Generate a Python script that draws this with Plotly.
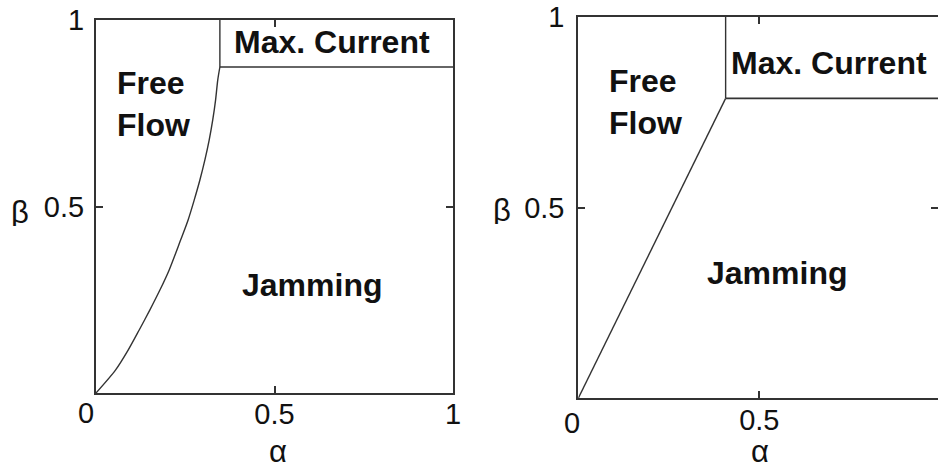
import plotly.graph_objects as go

# Phase boundaries, left diagram (curved free-flow / jamming boundary)
left_curve_alpha = [0.0, 0.055, 0.090, 0.121, 0.151, 0.179, 0.205, 0.237, 0.258,
                    0.275, 0.291, 0.305, 0.317, 0.327, 0.335, 0.341, 0.347]
left_curve_beta = [0.0, 0.062, 0.115, 0.169, 0.223, 0.276, 0.330, 0.410, 0.464,
                   0.517, 0.571, 0.625, 0.678, 0.732, 0.786, 0.839, 0.874]
left_corner = (0.347, 0.874)

# Phase boundaries, right diagram (straight free-flow / jamming boundary)
right_curve_alpha = [0.0, 0.407]
right_curve_beta = [0.0, 0.786]
right_corner = (0.407, 0.786)

tick_vals = [0.5, 1]
tick_text = ["0.5", "1"]

region_labels = ["Max. Current", "Free<br>Flow", "Jamming"]
left_label_pos = [(0.661, 0.941), (0.053, 0.775), (0.606, 0.290)]
right_label_pos = [(0.693, 0.879), (0.079, 0.776), (0.548, 0.328)]

W, H = 938, 466
LINE = "#333333"
TXT = "#111111"
BOLD = dict(family="Liberation Sans", size=32, color=TXT, weight="bold")
TICKF = dict(family="Liberation Sans", size=29, color=TXT)

fig = go.Figure()


def boundary(alpha, beta, corner, xa, ya, shape):
    ca, cb = corner
    fig.add_trace(go.Scatter(x=alpha, y=beta, mode="lines", xaxis=xa, yaxis=ya,
                             line=dict(color=LINE, width=1.4, shape=shape, smoothing=0.8),
                             showlegend=False, hoverinfo="skip"))
    fig.add_trace(go.Scatter(x=[ca, ca], y=[cb, 1.0], mode="lines", xaxis=xa, yaxis=ya,
                             line=dict(color=LINE, width=1.4), showlegend=False,
                             hoverinfo="skip"))
    fig.add_trace(go.Scatter(x=[ca, 1.0], y=[cb, cb], mode="lines", xaxis=xa, yaxis=ya,
                             line=dict(color=LINE, width=1.6), showlegend=False,
                             hoverinfo="skip"))


boundary(left_curve_alpha, left_curve_beta, left_corner, "x", "y", "spline")
boundary(right_curve_alpha, right_curve_beta, right_corner, "x2", "y2", "linear")

axis_common = dict(showline=True, linewidth=2, linecolor=LINE, mirror="ticks",
                   ticks="inside", ticklen=7, tickwidth=1.5, tickcolor=LINE,
                   tickvals=tick_vals, ticktext=tick_text, tickfont=TICKF,
                   showgrid=False, zeroline=False, fixedrange=True, automargin=False)

# pixel geometry of the two frames
L = dict(x0=96, x1=453, y0=393, y1=20)
R = dict(x0=578.3, x1=940.3, y0=398.3, y1=16.7)
r_len = R["x1"] - R["x0"]
r_vis = (W - R["x0"]) / r_len

fig.update_layout(
    template="none",
    width=W, height=H,
    margin=dict(l=0, r=0, t=0, b=0, pad=0, autoexpand=False),
    paper_bgcolor="white", plot_bgcolor="white",
    xaxis=dict(axis_common, domain=[L["x0"] / W, L["x1"] / W], range=[0, 1],
               anchor="y", ticklabelstandoff=-6),
    yaxis=dict(axis_common, domain=[(H - L["y0"]) / H, (H - L["y1"]) / H], range=[0, 1],
               anchor="x", ticklabelstandoff=4),
    xaxis2=dict(axis_common, domain=[R["x0"] / W, 1.0], range=[0, r_vis],
                anchor="y2", ticklabelstandoff=-5),
    yaxis2=dict(axis_common, domain=[(H - R["y0"]) / H, (H - R["y1"]) / H], range=[0, 1],
                anchor="x2", ticklabelstandoff=6),
)

annotations = []
for (xa, ya, pos) in (("x", "y", left_label_pos), ("x2", "y2", right_label_pos)):
    for text, (ax, ay) in zip(region_labels, pos):
        is_free = text.startswith("Free")
        annotations.append(dict(
            x=ax, y=ay, xref=xa, yref=ya, text=text, showarrow=False,
            font=BOLD, xanchor="left" if is_free else "center", yanchor="middle",
            align="left"))

# shared origin labels
annotations.append(dict(x=0, y=0, xref="x", yref="y", text="0", showarrow=False,
                        font=TICKF, xshift=-10, yshift=-20,
                        xanchor="center", yanchor="middle"))
annotations.append(dict(x=0, y=0, xref="x2", yref="y2", text="0", showarrow=False,
                        font=TICKF, xshift=-6, yshift=-25,
                        xanchor="center", yanchor="middle"))

# axis symbols (compact boxes so the lower ones stay inside the page)
GREEK = dict(family="Liberation Sans", size=31, color=TXT)
for sym, px, py in (("β", 20, 212), ("β", 502, 210), ("α", 278, 451), ("α", 760, 451)):
    annotations.append(dict(x=px / W, y=(H - py) / H, xref="paper", yref="paper",
                            text=sym, showarrow=False, font=GREEK,
                            xanchor="center", yanchor="middle",
                            height=28, valign="middle"))
fig.update_layout(annotations=annotations)

fig.write_html("out.html")
